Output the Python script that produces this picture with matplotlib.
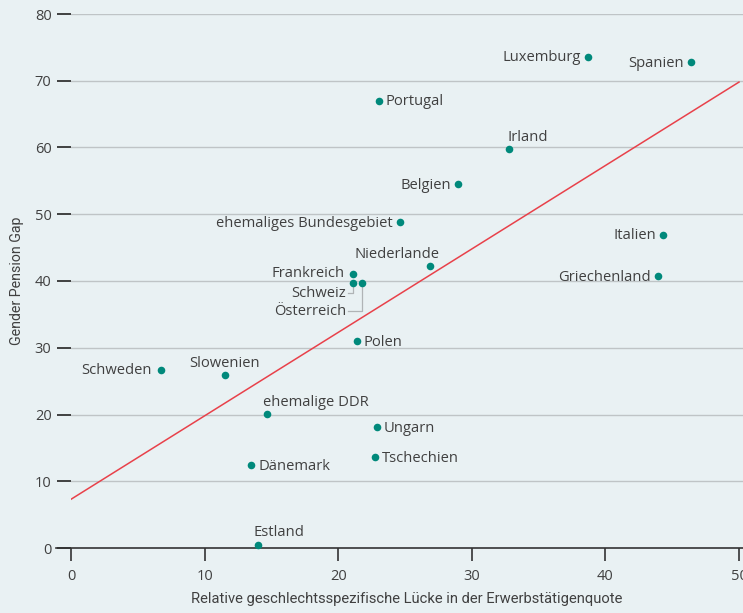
import matplotlib
matplotlib.use("Agg")
import matplotlib.pyplot as plt
import numpy as np

countries = ["Luxemburg", "Spanien", "Portugal", "Irland", "Belgien",
             "ehemaliges Bundesgebiet", "Italien", "Niederlande", "Griechenland",
             "Frankreich", "Schweiz", "Österreich", "Polen", "Schweden",
             "Slowenien", "ehemalige DDR", "Ungarn", "Tschechien", "Dänemark", "Estland"]
employment_gap = [38.7, 46.4, 23.05, 32.8, 29.0, 24.6, 44.3, 26.9, 43.9,
                  21.1, 21.1, 21.8, 21.4, 6.7, 11.5, 14.7, 22.9, 22.75, 13.5, 14.0]
pension_gap = [73.6, 72.8, 67.0, 59.8, 54.5, 48.8, 46.9, 42.2, 40.7,
               41.0, 39.7, 39.7, 31.0, 26.7, 25.9, 20.1, 18.1, 13.6, 12.4, 0.45]
fit_intercept = 7.3
fit_slope = 1.25
x_ticks = [0, 10, 20, 30, 40, 50]
y_ticks = [0, 10, 20, 30, 40, 50, 60, 70, 80]

BG = "#e9f1f3"
TEAL = "#00897b"
RED = "#e8414a"
TXT = "#404040"
FONT = ["Open Sans", "DejaVu Sans"]
NARROW = ["Roboto", "DejaVu Sans"]

plt.rcParams["font.family"] = FONT

W, H = 743, 613
fig = plt.figure(figsize=(W / 100, H / 100), dpi=100, facecolor=BG)
x0, x1 = 71, 743
y0, y1 = 548, 14
ax = fig.add_axes([x0 / W, 1 - y0 / H, (x1 - x0) / W, (y0 - y1) / H])
ax.set_facecolor(BG)
ppu_x = (739 - 71) / 50.0
ax.set_xlim(0, (x1 - x0) / ppu_x)
ax.set_ylim(0, 80)

for s in ax.spines.values():
    s.set_visible(False)

# grid lines
for yv in y_ticks[1:]:
    ax.axhline(yv, color="#bfc4c6", lw=1.0, zorder=1)
# x axis line (extends left over the tick)
ax.plot([-15 / ppu_x, (x1 - x0) / ppu_x], [0, 0], color="#333333", lw=1.2,
        clip_on=False, zorder=2)

ax.set_xticks(x_ticks)
ax.set_yticks(y_ticks)
ax.tick_params(axis="y", length=10, width=1.3, color="#333333", labelsize=10.5,
               labelcolor=TXT, pad=4)
ax.tick_params(axis="x", length=9, width=1.2, color="#333333", labelsize=10.5,
               labelcolor=TXT, pad=6)
ax.set_xlabel("Relative geschlechtsspezifische Lücke in der Erwerbstätigenquote",
              fontsize=10.6, color=TXT, labelpad=6, family=NARROW)
ax.set_ylabel("Gender Pension Gap", fontsize=10.2, color=TXT, labelpad=8,
              family=NARROW)

# regression line
xs = np.array([0, 50])
ax.plot(xs, fit_intercept + fit_slope * xs, color=RED, lw=1.1, zorder=3)

ax.scatter(employment_gap, pension_gap, s=30, color=TEAL, zorder=4,
           clip_on=False, linewidths=0)

px = 0.72  # points per pixel
label_pos = {
    "Luxemburg": (-7, -1, "right", "center"),
    "Spanien": (-7, -1, "right", "center"),
    "Portugal": (7, -1, "left", "center"),
    "Irland": (-2, 11, "left", "center"),
    "Belgien": (-7, -1, "right", "center"),
    "ehemaliges Bundesgebiet": (-7, -1, "right", "center"),
    "Italien": (-7, -1, "right", "center"),
    "Niederlande": (9, 12, "right", "center"),
    "Griechenland": (-7, -1, "right", "center"),
    "Frankreich": (-8, 1, "right", "center"),
    "Polen": (7, -1, "left", "center"),
    "Schweden": (-9, -1, "right", "center"),
    "Slowenien": (0, 12, "center", "center"),
    "ehemalige DDR": (-4, 11, "left", "center"),
    "Ungarn": (7, -1, "left", "center"),
    "Tschechien": (7, -1, "left", "center"),
    "Dänemark": (7, -1, "left", "center"),
    "Estland": (-5, 12, "left", "center"),
}
for name, xv, yv in zip(countries, employment_gap, pension_gap):
    if name in label_pos:
        dx, dy, ha, va = label_pos[name]
        ax.annotate(name, (xv, yv), xytext=(dx * px, dy * px),
                    textcoords="offset points", ha=ha, va=va,
                    fontsize=10.6, color=TXT, zorder=5)

# Schweiz / Österreich with leader lines
i_s = countries.index("Schweiz")
i_o = countries.index("Österreich")
def dpx(n):
    return n / ppu_x
def dpy(n):
    return n / ((y0 - y1) / 80.0)
xs_s, ys_s = employment_gap[i_s], pension_gap[i_s]
xs_o, ys_o = employment_gap[i_o], pension_gap[i_o]
# Schweiz
ax.plot([xs_s, xs_s, xs_s - dpx(5)], [ys_s - dpy(2), ys_s - dpy(10), ys_s - dpy(10)],
        color="#b0b4b6", lw=0.9, zorder=3)
ax.annotate("Schweiz", (xs_s - dpx(7), ys_s - dpy(10)), ha="right", va="center",
            fontsize=10.6, color=TXT)
# Österreich
ax.plot([xs_o, xs_o, xs_s - dpx(5)], [ys_o - dpy(2), ys_o - dpy(28), ys_o - dpy(28)],
        color="#b0b4b6", lw=0.9, zorder=3)
ax.annotate("Österreich", (xs_s - dpx(7), ys_o - dpy(28)), ha="right", va="center",
            fontsize=10.6, color=TXT)

fig.savefig("out.png", dpi=100, facecolor=BG)
